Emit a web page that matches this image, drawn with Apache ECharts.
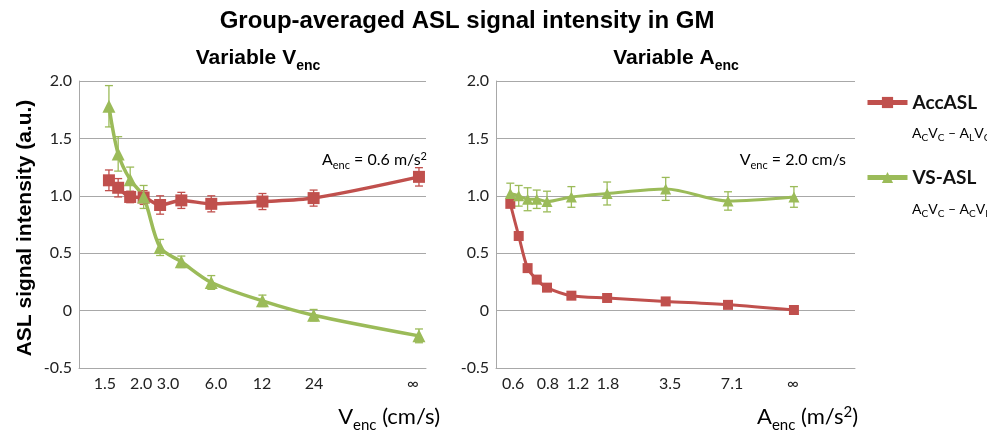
<!DOCTYPE html>
<html><head><meta charset="utf-8">
<script src="https://cdn.jsdelivr.net/npm/echarts@6/dist/echarts.min.js"></script>
<style>html,body{margin:0;padding:0;background:#fff}#c{width:987px;height:430px}</style>
</head><body><div id="c"></div>
<script>
// ---- Left panel: variable Venc (cm/s); 100 stands for the "∞" position ----
const vencX      = [1.5, 1.7, 2.0, 2.4, 3.0, 4.0, 6.0, 12, 24, 100];
const vencAcc    = [1.135, 1.07, 0.99, 0.985, 0.92, 0.96, 0.93, 0.95, 0.98, 1.165];
const vencAccErr = [0.09, 0.08, 0.05, 0.06, 0.08, 0.07, 0.07, 0.07, 0.07, 0.08];
const vencVs     = [1.78, 1.365, 1.14, 0.99, 0.55, 0.425, 0.245, 0.085, -0.04, -0.22];
const vencVsErr  = [0.18, 0.15, 0.11, 0.10, 0.07, 0.05, 0.06, 0.05, 0.05, 0.06];
const vencTickLabels = ['1.5', '2.0', '3.0', '6.0', '12', '24', '∞'];
const vencTickPos    = [1.42, 2.32, 3.34, 6.4, 11.93, 24.1, 92.2];

// ---- Right panel: variable Aenc (m/s^2); 15 stands for the "∞" position ----
const aencX      = [0.6, 0.66, 0.73, 0.81, 0.91, 1.2, 1.8, 3.5, 7.1, 15];
const aencAcc    = [0.93, 0.65, 0.37, 0.27, 0.20, 0.13, 0.11, 0.08, 0.05, 0.005];
const aencAccErr = [0.02, 0.02, 0.02, 0.02, 0.02, 0.015, 0.015, 0.015, 0.015, 0.015];
const aencVs     = [1.02, 1.0, 0.97, 0.97, 0.95, 0.99, 1.02, 1.06, 0.955, 0.99];
const aencVsErr  = [0.09, 0.09, 0.10, 0.08, 0.09, 0.09, 0.10, 0.10, 0.08, 0.09];
const aencTickLabels = ['0.6', '0.8', '1.2', '1.8', '3.5', '7.1', '∞'];
const aencTickPos    = [0.619, 0.92, 1.294, 1.818, 3.68, 7.43, 14.84];

const RED = '#C0504D', GREEN = '#9BBB59', GRIDC = '#a8a8a8', TXT = '#222';
const LAB = 'Lato, "Open Sans", sans-serif';
const BOLD = '"Liberation Sans", Arial, sans-serif';

function pairs(xs, ys) { return xs.map((x, i) => [x, ys[i]]); }
function errs(xs, ys, es) { return xs.map((x, i) => [x, ys[i] - es[i], ys[i] + es[i]]); }
function nearestLabel(pos, labels) {
  return function (v) {
    let best = 0, bd = Infinity;
    pos.forEach((p, i) => { const d = Math.abs(Math.log(v / p)); if (d < bd) { bd = d; best = i; } });
    return labels[best];
  };
}
function errRender(params, api) {
  const x = api.value(0), lo = api.value(1), hi = api.value(2);
  const a = api.coord([x, hi]), b = api.coord([x, lo]);
  const w = 4;
  const st = { stroke: api.visual('color'), lineWidth: 1.3 };
  return { type: 'group', children: [
    { type: 'line', shape: { x1: a[0], y1: a[1], x2: b[0], y2: b[1] }, style: st },
    { type: 'line', shape: { x1: a[0] - w, y1: a[1], x2: a[0] + w, y2: a[1] }, style: st },
    { type: 'line', shape: { x1: b[0] - w, y1: b[1], x2: b[0] + w, y2: b[1] }, style: st }
  ]};
}
function xAxisCfg(gi, min, max, pos, labels) {
  return {
    gridIndex: gi, type: 'log', logBase: 2, min: min, max: max,
    axisLine: { show: true, onZero: false, lineStyle: { color: GRIDC, width: 1 } },
    axisTick: { show: false },
    splitLine: { show: false },
    axisLabel: { customValues: pos, formatter: nearestLabel(pos, labels), color: TXT,
                 fontFamily: LAB, fontSize: 16, margin: 8 }
  };
}
function yAxisCfg(gi) {
  return {
    gridIndex: gi, type: 'value', min: -0.5, max: 2, interval: 0.5,
    axisLine: { show: true, lineStyle: { color: GRIDC, width: 1 } },
    axisTick: { show: false },
    splitLine: { show: true, lineStyle: { color: GRIDC, width: 1 } },
    axisLabel: { color: TXT, fontFamily: LAB, fontSize: 16, margin: 7,
                 formatter: v => (Math.abs(v) < 1e-9 ? '0' : v.toFixed(1)) }
  };
}
function lineSeries(name, xi, data, color, symbol, size, width) {
  return { name: name, type: 'line', xAxisIndex: xi, yAxisIndex: xi, data: data,
    smooth: 0.3, symbol: symbol, symbolSize: size, showSymbol: true,
    lineStyle: { color: color, width: width }, itemStyle: { color: color },
    z: 3, animation: false };
}
function errSeries(name, xi, data, color) {
  return { name: name, type: 'custom', xAxisIndex: xi, yAxisIndex: xi, data: data,
    renderItem: errRender, itemStyle: { color: color }, encode: { x: 0, y: [1, 2] },
    z: 2, animation: false, silent: true };
}
function legendCfg(name, top) {
  return { data: [name], left: 865, top: top, padding: 0, itemWidth: 40, itemHeight: 14,
    lineStyle: { width: 5 }, selectedMode: false,
    textStyle: { fontFamily: LAB, fontWeight: 'bold', fontSize: 19, color: '#111', lineHeight: 18 } };
}

const chart = echarts.init(document.getElementById('c'), null, { renderer: 'canvas' });
chart.setOption({
  backgroundColor: '#fff',
  animation: false,
  grid: [
    { left: 79, top: 81, width: 347, height: 287 },
    { left: 496, top: 81, width: 359, height: 287 }
  ],
  xAxis: [
    xAxisCfg(0, 1, 110, vencTickPos, vencTickLabels),
    xAxisCfg(1, 0.51, 30, aencTickPos, aencTickLabels)
  ],
  yAxis: [yAxisCfg(0), yAxisCfg(1)],
  legend: [legendCfg('AccASL', 93), legendCfg('VS-ASL', 168)],
  graphic: [
    { type: 'text', x: 467, y: 21, style: { text: 'Group-averaged ASL signal intensity in GM',
      font: 'bold 24px ' + BOLD, fill: '#000', align: 'center', verticalAlign: 'middle' } },
    { type: 'text', x: 258, y: 57, style: {
      text: '{m|Variable V}{s|enc}', align: 'center', verticalAlign: 'middle',
      rich: { m: { fontFamily: BOLD, fontWeight: 'bold', fontSize: 21, color: '#000', verticalAlign: 'bottom', lineHeight: 24 },
              s: { fontFamily: BOLD, fontWeight: 'bold', fontSize: 14, color: '#000', verticalAlign: 'bottom', lineHeight: 16, padding: [0, 0, -4, 0] } } } },
    { type: 'text', x: 676, y: 57, style: {
      text: '{m|Variable A}{s|enc}', align: 'center', verticalAlign: 'middle',
      rich: { m: { fontFamily: BOLD, fontWeight: 'bold', fontSize: 21, color: '#000', verticalAlign: 'bottom', lineHeight: 24 },
              s: { fontFamily: BOLD, fontWeight: 'bold', fontSize: 14, color: '#000', verticalAlign: 'bottom', lineHeight: 16, padding: [0, 0, -4, 0] } } } },
    { type: 'text', x: 25, y: 228, rotation: Math.PI / 2, style: { text: 'ASL signal intensity (a.u.)',
      font: 'bold 21px ' + BOLD, fill: '#000', align: 'center', verticalAlign: 'middle' } },
    // panel annotations
    { type: 'text', x: 427, y: 158, style: {
      text: '{n|A}{s|enc}{n| = 0.6 m/s}{p|2}', align: 'right', verticalAlign: 'middle',
      rich: { n: { fontFamily: LAB, fontSize: 16, color: TXT, verticalAlign: 'bottom', lineHeight: 20 },
              s: { fontFamily: LAB, fontSize: 11, color: TXT, verticalAlign: 'bottom', lineHeight: 12, padding: [0, 0, -3, 0] },
              p: { fontFamily: LAB, fontSize: 11, color: TXT, verticalAlign: 'top', lineHeight: 12, padding: [3, 0, 0, 0] } } } },
    { type: 'text', x: 846, y: 158, style: {
      text: '{n|V}{s|enc}{n| = 2.0 cm/s}', align: 'right', verticalAlign: 'middle',
      rich: { n: { fontFamily: LAB, fontSize: 16, color: TXT, verticalAlign: 'bottom', lineHeight: 20 },
              s: { fontFamily: LAB, fontSize: 11, color: TXT, verticalAlign: 'bottom', lineHeight: 12, padding: [0, 0, -3, 0] } } } },
    // axis titles
    { type: 'text', x: 440, y: 415, style: {
      text: '{n|V}{s|enc}{n| (cm/s)}', align: 'right', verticalAlign: 'middle',
      rich: { n: { fontFamily: LAB, fontSize: 22, color: TXT, verticalAlign: 'bottom', lineHeight: 26 },
              s: { fontFamily: LAB, fontSize: 15, color: TXT, verticalAlign: 'bottom', lineHeight: 16, padding: [0, 0, -5, 0] } } } },
    { type: 'text', x: 858, y: 415, style: {
      text: '{n|A}{s|enc}{n| (m/s}{p|2}{n|)}', align: 'right', verticalAlign: 'middle',
      rich: { n: { fontFamily: LAB, fontSize: 22, color: TXT, verticalAlign: 'bottom', lineHeight: 26 },
              s: { fontFamily: LAB, fontSize: 15, color: TXT, verticalAlign: 'bottom', lineHeight: 16, padding: [0, 0, -5, 0] },
              p: { fontFamily: LAB, fontSize: 15, color: TXT, verticalAlign: 'top', lineHeight: 16, padding: [3, 0, 0, 0] } } } },
    // legend formulas
    { type: 'text', x: 912, y: 131, style: {
      text: '{n|A}{s|C}{n|V}{s|C}{n| – A}{s|L}{n|V}{s|C}', align: 'left', verticalAlign: 'middle',
      rich: { n: { fontFamily: LAB, fontSize: 14, color: TXT, verticalAlign: 'bottom', lineHeight: 18 },
              s: { fontFamily: LAB, fontSize: 10, color: TXT, verticalAlign: 'bottom', lineHeight: 11, padding: [0, 0, -3, 0] } } } },
    { type: 'text', x: 912, y: 207, style: {
      text: '{n|A}{s|C}{n|V}{s|C}{n| – A}{s|C}{n|V}{s|L}', align: 'left', verticalAlign: 'middle',
      rich: { n: { fontFamily: LAB, fontSize: 14, color: TXT, verticalAlign: 'bottom', lineHeight: 18 },
              s: { fontFamily: LAB, fontSize: 10, color: TXT, verticalAlign: 'bottom', lineHeight: 11, padding: [0, 0, -3, 0] } } } }
  ],
  series: [
    errSeries('AccASL err L', 0, errs(vencX, vencAcc, vencAccErr), RED),
    errSeries('VS-ASL err L', 0, errs(vencX, vencVs, vencVsErr), GREEN),
    lineSeries('AccASL', 0, pairs(vencX, vencAcc), RED, 'rect', 12, 3.5),
    lineSeries('VS-ASL', 0, pairs(vencX, vencVs), GREEN, 'triangle', 13, 3.5),
    errSeries('AccASL err R', 1, errs(aencX, aencAcc, aencAccErr), RED),
    errSeries('VS-ASL err R', 1, errs(aencX, aencVs, aencVsErr), GREEN),
    lineSeries('AccASL', 1, pairs(aencX, aencAcc), RED, 'rect', 10, 3),
    lineSeries('VS-ASL', 1, pairs(aencX, aencVs), GREEN, 'triangle', 11, 3)
  ]
});
</script></body></html>
